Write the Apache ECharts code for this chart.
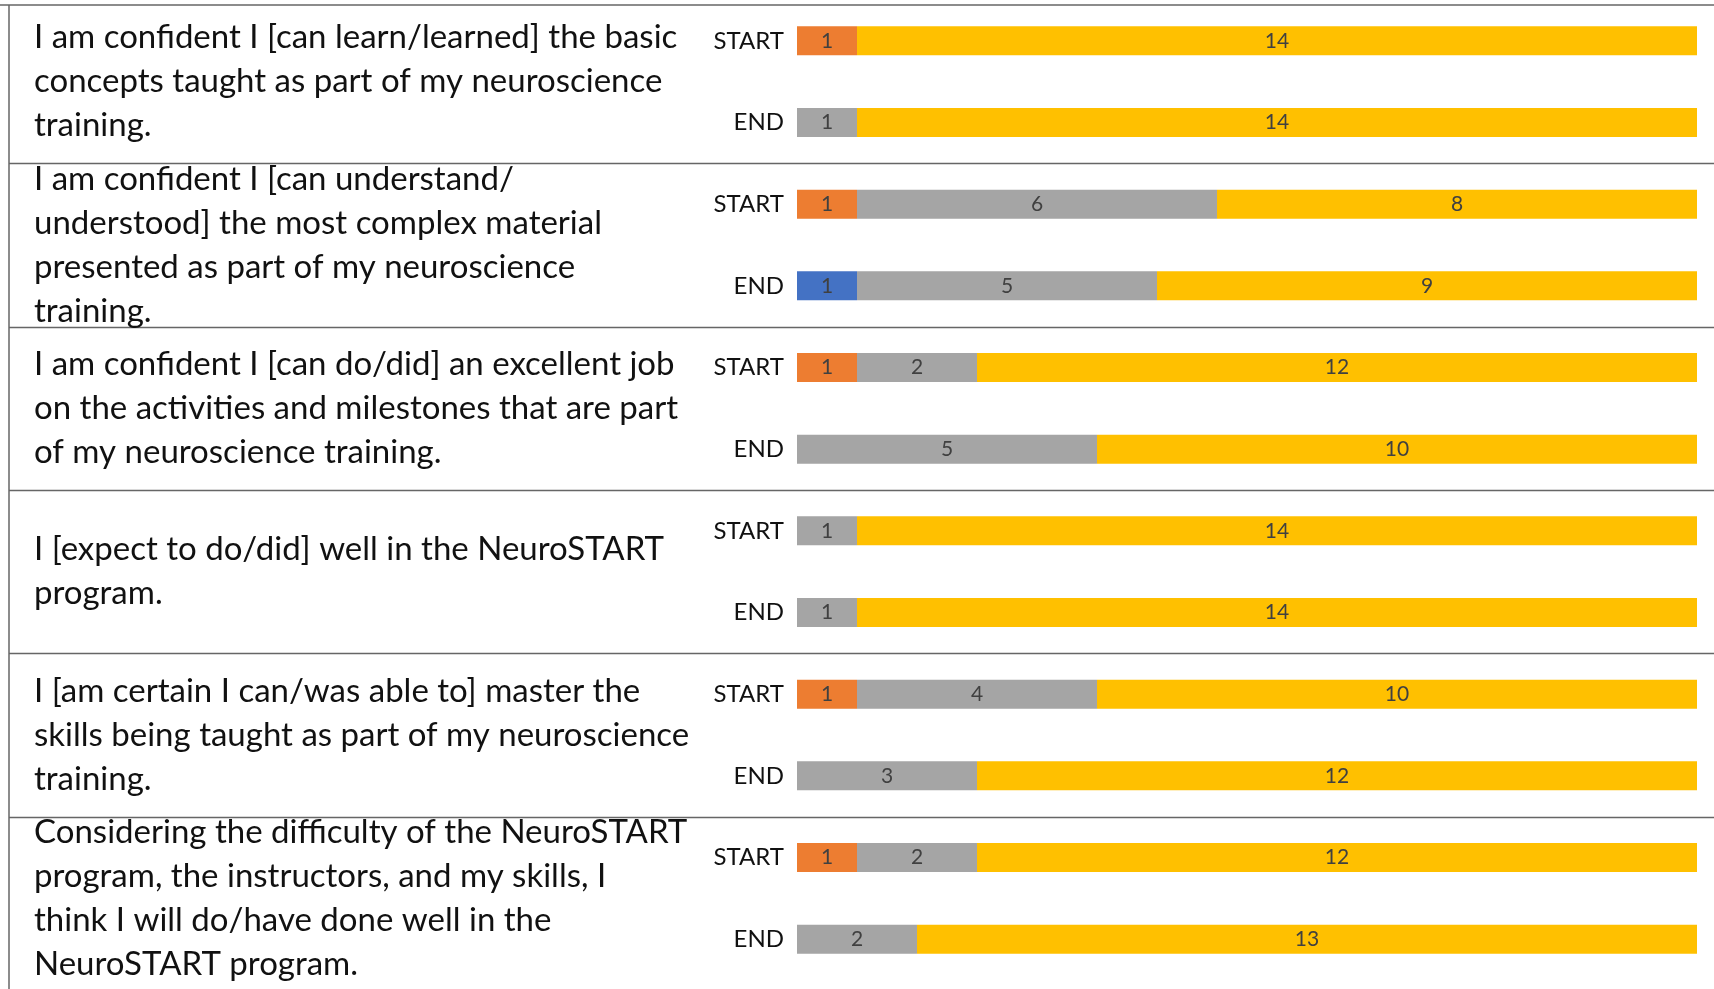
<!DOCTYPE html>
<html>
<head>
<meta charset="utf-8">
<script src="https://cdn.jsdelivr.net/npm/echarts@6/dist/echarts.min.js"></script>
<style>
  html, body { margin: 0; padding: 0; background: #fff; }
  #chart { width: 1714px; height: 989px; }
</style>
</head>
<body>
<div id="chart"></div>
<script>
// survey statements, line breaks as in the table
var questions = [
  'I am confident I [can learn/learned] the basic\nconcepts taught as part of my neuroscience\ntraining.',
  'I am confident I [can understand/\nunderstood] the most complex material\npresented as part of my neuroscience\ntraining.',
  'I am confident I [can do/did] an excellent job\non the activities and milestones that are part\nof my neuroscience training.',
  'I [expect to do/did] well in the NeuroSTART\nprogram.',
  'I [am certain I can/was able to] master the\nskills being taught as part of my neuroscience\ntraining.',
  'Considering the difficulty of the NeuroSTART\nprogram, the instructors, and my skills, I\nthink I will do/have done well in the\nNeuroSTART program.'
];
var phases = ['START', 'END', 'START', 'END', 'START', 'END', 'START', 'END', 'START', 'END', 'START', 'END'];

// counts per bar (START/END for each statement)
var blueVals   = [0, 0, 0, 1, 0, 0, 0, 0, 0, 0, 0, 0];
var orangeVals = [1, 0, 1, 0, 1, 0, 0, 0, 1, 0, 1, 0];
var grayVals   = [0, 1, 6, 5, 2, 5, 1, 1, 4, 3, 2, 2];
var yellowVals = [14, 14, 8, 9, 12, 10, 14, 14, 10, 12, 12, 13];

var myChart = echarts.init(document.getElementById('chart'));

function barSeries(name, color, data) {
  return {
    name: name,
    type: 'bar',
    stack: 'total',
    yAxisIndex: 0,
    barWidth: 29,
    itemStyle: { color: color },
    label: {
      show: true,
      position: 'inside',
      color: '#404040',
      fontFamily: 'Lato',
      fontSize: 21,
      formatter: function (p) { return p.value ? p.value : ''; }
    },
    data: data
  };
}

var option = {
  animation: false,
  grid: { left: 797, right: 17, top: -7, bottom: 9 },
  xAxis: { type: 'value', min: 0, max: 15, show: false },
  yAxis: [
    {
      type: 'category',
      inverse: true,
      data: phases,
      axisLine: { show: false },
      axisTick: { show: false },
      splitLine: { show: false },
      axisLabel: {
        interval: 0,
        margin: 13,
        color: '#111',
        fontFamily: 'Lato',
        fontSize: 24
      }
    },
    {
      type: 'category',
      inverse: true,
      position: 'left',
      data: questions,
      axisLine: { show: false },
      axisTick: { show: false },
      splitLine: { show: false },
      axisLabel: {
        interval: 0,
        margin: 763,
        align: 'left',
        color: '#111',
        fontFamily: 'Lato',
        fontSize: 33,
        lineHeight: 44
      }
    }
  ],
  series: [
    barSeries('blue', '#4472C4', blueVals),
    barSeries('orange', '#ED7D31', orangeVals),
    barSeries('gray', '#A5A5A5', grayVals),
    barSeries('yellow', '#FFC000', yellowVals)
  ]
};
myChart.setOption(option);

// table rules: midway between one statement's END bar and the next START bar
var lines = [
  { type: 'line', shape: { x1: 0, y1: 5, x2: 1714, y2: 5 }, style: { stroke: '#666', lineWidth: 1.5 } },
  { type: 'line', shape: { x1: 9, y1: 5, x2: 9, y2: 989 }, style: { stroke: '#666', lineWidth: 1.5 } }
];
for (var i = 0; i < questions.length - 1; i++) {
  var yEnd = myChart.convertToPixel({ yAxisIndex: 0 }, 2 * i + 1);
  var yNext = myChart.convertToPixel({ yAxisIndex: 0 }, 2 * i + 2);
  var y = Math.round((yEnd + yNext) / 2) + 0.5;
  lines.push({ type: 'line', shape: { x1: 9, y1: y, x2: 1714, y2: y }, style: { stroke: '#666', lineWidth: 1.5 } });
}
myChart.setOption({ graphic: lines });
</script>
</body>
</html>
